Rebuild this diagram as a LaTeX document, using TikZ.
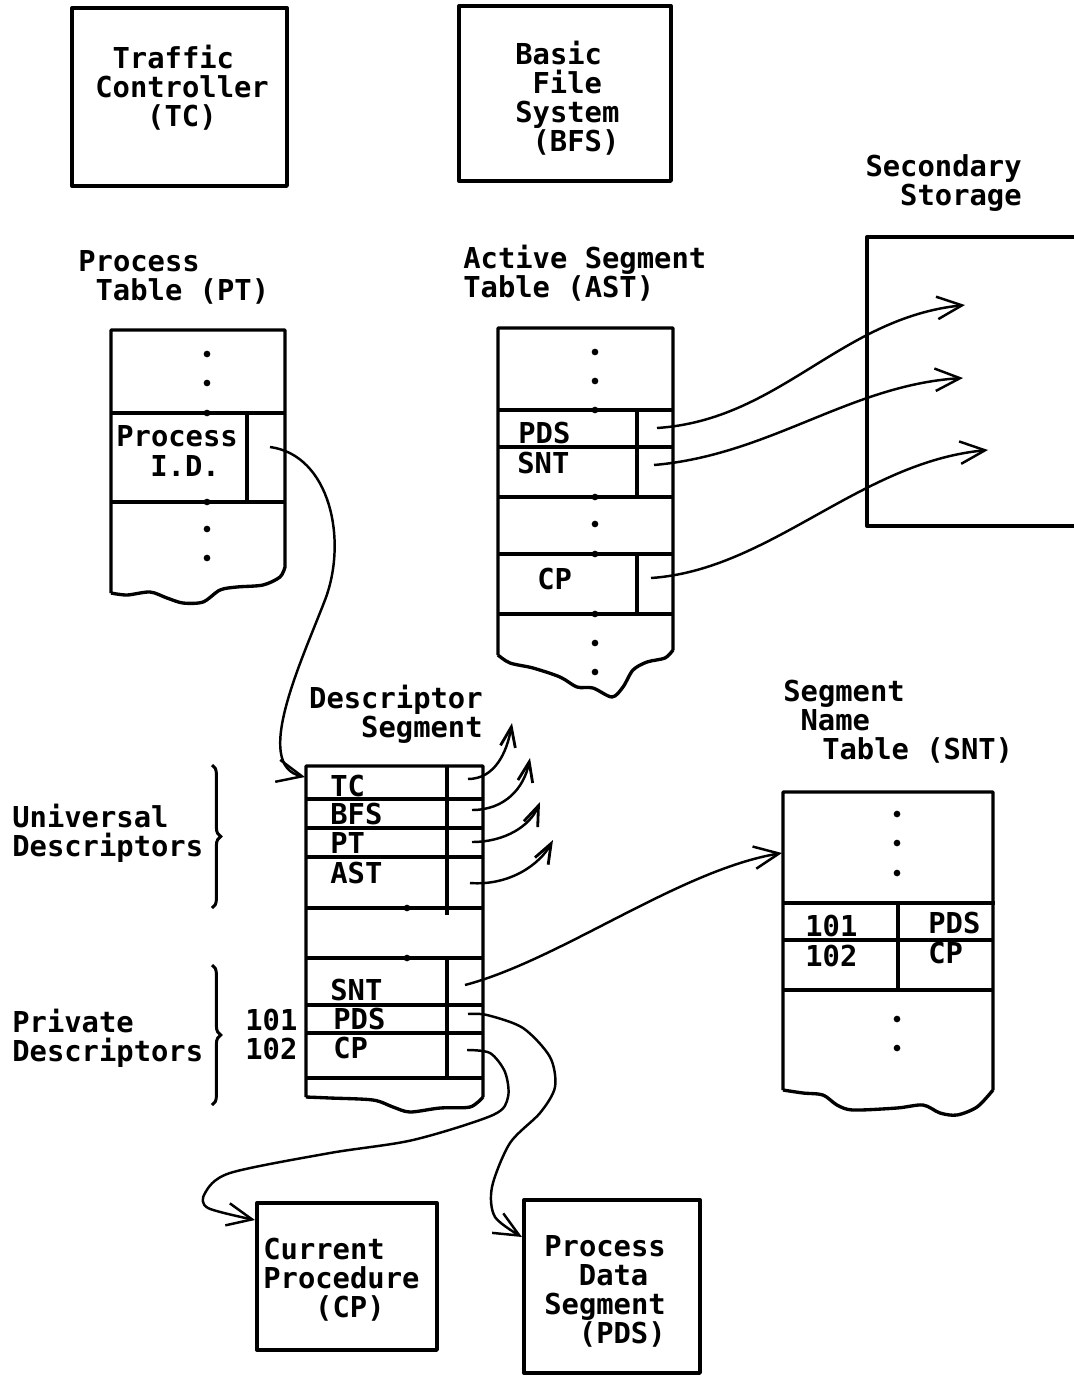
\documentclass[tikz,border=0pt]{standalone}
\usepackage{fontspec}
\setmonofont{DejaVu Sans Mono}
\usetikzlibrary{arrows.meta,decorations.pathreplacing}
\newcommand\typefont{\ttfamily\bfseries\fontsize{16.4}{16.5}\selectfont}
\tikzset{
  tbl/.style={line width=1.9pt, line join=round},
  ptr/.style={line width=1.4pt, -{Straight Barb[length=5mm,width=4.5mm,line width=1.4pt]}},
  uptr/.style={line width=1.4pt, -{Straight Barb[length=4mm,width=3mm,line width=1.6pt]}},
  txt/.style={font=\typefont, inner sep=0pt},
  bracket/.style={line width=1.7pt, decorate, decoration={brace, amplitude=5pt}}
}

\begin{document}
\begin{tikzpicture}[x=0.02cm, y=-0.02cm]
  \useasboundingbox (0,0) rectangle (1073,1376);

  % top boxes
  \draw[tbl] (72,8) rectangle (287,186);
  \node[txt, align=left, anchor=north west] (tc) at (95,45)
    {\hspace*{.6em}Traffic\\Controller\\\hspace*{1.8em}(TC)};
  \draw[tbl] (459,6) rectangle (671,181);
  \node[txt, align=left, anchor=north west] (bfs) at (515,41)
    {Basic\\\hspace*{.6em}File\\System\\\hspace*{.6em}(BFS)};

  % secondary storage
  \node[txt, align=right, anchor=north east] (sslbl) at (1022,154) {Secondary\\Storage};
  \draw[tbl] (1075,237) -- (867,237) -- (867,526) -- (1075,526);
  \coordinate (ss1) at (965,305);
  \coordinate (ss2) at (963,378);
  \coordinate (ss3) at (988,450);

  % process table
  \node[txt, align=left, anchor=north west] (ptlbl) at (78,250) {Process\\\hspace*{.6em}Table (PT)};
  \draw[tbl] (285,567) -- (285,330) -- (111,330) -- (111,593)
    plot[smooth] coordinates {(111,593) (127,595) (150,592) (167,598) (183,603) (203,602)
      (220,590) (237,587) (263,585) (280,577) (285,567)};
  \draw[tbl] (111,413) -- (285,413) (111,502) -- (285,502) (247,413) -- (247,502);
  \foreach \y in {354,383,413,502,529,558} \fill (207,\y) circle[radius=1.9pt];
  \node[txt, anchor=base west] (ptproc) at (116,446) {Process};
  \node[txt, anchor=base west] (ptid) at (150,476) {I.D.};
  \coordinate (ptptr) at (270,447);

  % active segment table
  \node[txt, align=left, anchor=north west] (astlbl) at (463,245) {Active Segment\\Table (AST)};
  \draw[tbl] (673,650) -- (673,328) -- (498,328) -- (498,655)
    plot[smooth] coordinates {(498,655) (510,663) (533,668) (560,677) (577,687) (593,688)
      (612,697) (623,687) (633,670) (647,662) (665,658) (673,650)};
  \draw[tbl] (498,410) -- (673,410) (498,447) -- (673,447) (498,497) -- (673,497)
    (498,554) -- (673,554) (498,614) -- (673,614) (637,410) -- (637,497) (637,554) -- (637,614);
  \foreach \y in {352,381,410,497,524,554,614,643,672} \fill (595,\y) circle[radius=1.9pt];
  \node[txt, anchor=base west] (astpds) at (518,443) {PDS};
  \node[txt, anchor=base west] (astsnt) at (517,473) {SNT};
  \node[txt, anchor=base west] (astcp) at (537,589) {CP};
  \coordinate (astpdsptr) at (657,428);
  \coordinate (astsntptr) at (654,465);
  \coordinate (astcpptr) at (651,578);

  \draw[ptr] (astpdsptr) .. controls (780,420) and (840,318) .. (ss1);
  \draw[ptr] (astsntptr) .. controls (770,455) and (850,385) .. (ss2);
  \draw[ptr] (astcpptr) .. controls (770,570) and (860,462) .. (ss3);

  % descriptor segment
  \node[txt, align=right, anchor=north east] (dslbl) at (483,685) {Descriptor\\Segment};
  \draw[tbl] (483,1097) -- (483,766) -- (306,766) -- (306,1097)
    plot[smooth] coordinates {(306,1097) (330,1098) (373,1100) (393,1107) (410,1112)
      (440,1108) (470,1107) (483,1097)};
  \foreach \y in {799,828,857,908,958,1005,1033,1078} \draw[tbl] (306,\y) -- (483,\y);
  \draw[tbl] (447,766) -- (447,915) (447,958) -- (447,1078);
  \fill (407,908) circle[radius=1.9pt] (407,958) circle[radius=1.9pt];
  \foreach \t/\x/\y in {TC/330/796, BFS/330/824, PT/330/853, AST/330/883,
      SNT/330/1000, PDS/333/1029, CP/333/1058}
    \node[txt, anchor=base west] (ds\t) at (\x,\y) {\t};
  \coordinate (dstop) at (305,777);
  \draw[ptr] (ptptr) .. controls (330,455) and (348,540) .. (325,600)
    .. controls (302,660) and (252,765) .. (dstop);

  % universal pointers
  \coordinate (tcptr) at (468,779);   \coordinate (tcout) at (512,723);
  \coordinate (bfsptr) at (472,810);  \coordinate (bfsout) at (530,758);
  \coordinate (ptsptr) at (472,842);  \coordinate (ptsout) at (540,802);
  \coordinate (astptr) at (470,883);  \coordinate (astout) at (553,840);
  \draw[uptr] (tcptr) .. controls (495,779) and (507,752) .. (tcout);
  \draw[uptr] (bfsptr) .. controls (505,810) and (524,788) .. (bfsout);
  \draw[uptr] (ptsptr) .. controls (505,842) and (530,826) .. (ptsout);
  \draw[uptr] (astptr) .. controls (510,886) and (540,864) .. (astout);

  % braces
  \draw[bracket] (212,765) -- (212,908);
  \draw[bracket] (212,965) -- (212,1105);
  \node[txt, align=left, anchor=north west] (univ) at (12,804) {Universal\\Descriptors};
  \node[txt, align=left, anchor=north west] (priv) at (12,1009) {Private\\Descriptors};
  \node[txt, anchor=base west] (n101) at (245,1030) {101};
  \node[txt, anchor=base west] (n102) at (245,1059) {102};

  % segment name table
  \node[txt, align=left, anchor=north west] (sntlbl) at (783,680)
    {Segment\\\hspace*{.6em}Name\\\hspace*{1.35em}Table (SNT)};
  \draw[tbl] (993,1090) -- (993,792) -- (783,792) -- (783,1090)
    plot[smooth] coordinates {(783,1090) (803,1093) (823,1095) (837,1105) (853,1110)
      (897,1108) (923,1105) (940,1113) (957,1115) (977,1107) (993,1090)};
  \draw[tbl] (783,903) -- (995,903) (783,940) -- (993,940) (783,990) -- (993,990) (898,903) -- (898,990);
  \foreach \y in {814,843,873,1019,1048} \fill (897,\y) circle[radius=1.9pt];
  \node[txt, anchor=base west] (snt101) at (805,936) {101};
  \node[txt, anchor=base west] (snt102) at (805,966) {102};
  \node[txt, anchor=base west] (sntpds) at (928,933) {PDS};
  \node[txt, anchor=base west] (sntcp) at (928,963) {CP};
  \coordinate (sntin) at (782,853);
  \coordinate (dssntptr) at (465,985);
  \draw[ptr] (dssntptr) .. controls (560,960) and (680,870) .. (sntin);

  % bottom boxes
  \draw[tbl] (257,1203) rectangle (437,1350);
  \node[txt, align=left, anchor=north west] (cp) at (263,1238) {Current\\Procedure\\\hspace*{1.8em}(CP)};
  \draw[tbl] (524,1200) rectangle (700,1373);
  \node[txt, align=left, anchor=north west] (pds) at (544,1235)
    {Process\\\hspace*{1.2em}Data\\Segment\\\hspace*{1.2em}(PDS)};
  \coordinate (cpin) at (255,1220);
  \coordinate (pdsin) at (522,1237);
  \coordinate (dspdsptr) at (468,1014);
  \coordinate (dscpptr) at (467,1050);
  \draw[ptr] plot[smooth] coordinates {(dspdsptr) (487,1015) (523,1028) (550,1057) (555,1087)
    (540,1113) (510,1143) (492,1187) (495,1217) (pdsin)};
  \draw[ptr] plot[smooth] coordinates {(dscpptr) (490,1053) (505,1072) (508,1097) (493,1115)
    (413,1140) (330,1153) (230,1173) (205,1193) (208,1208) (cpin)};
\end{tikzpicture}
\end{document}
